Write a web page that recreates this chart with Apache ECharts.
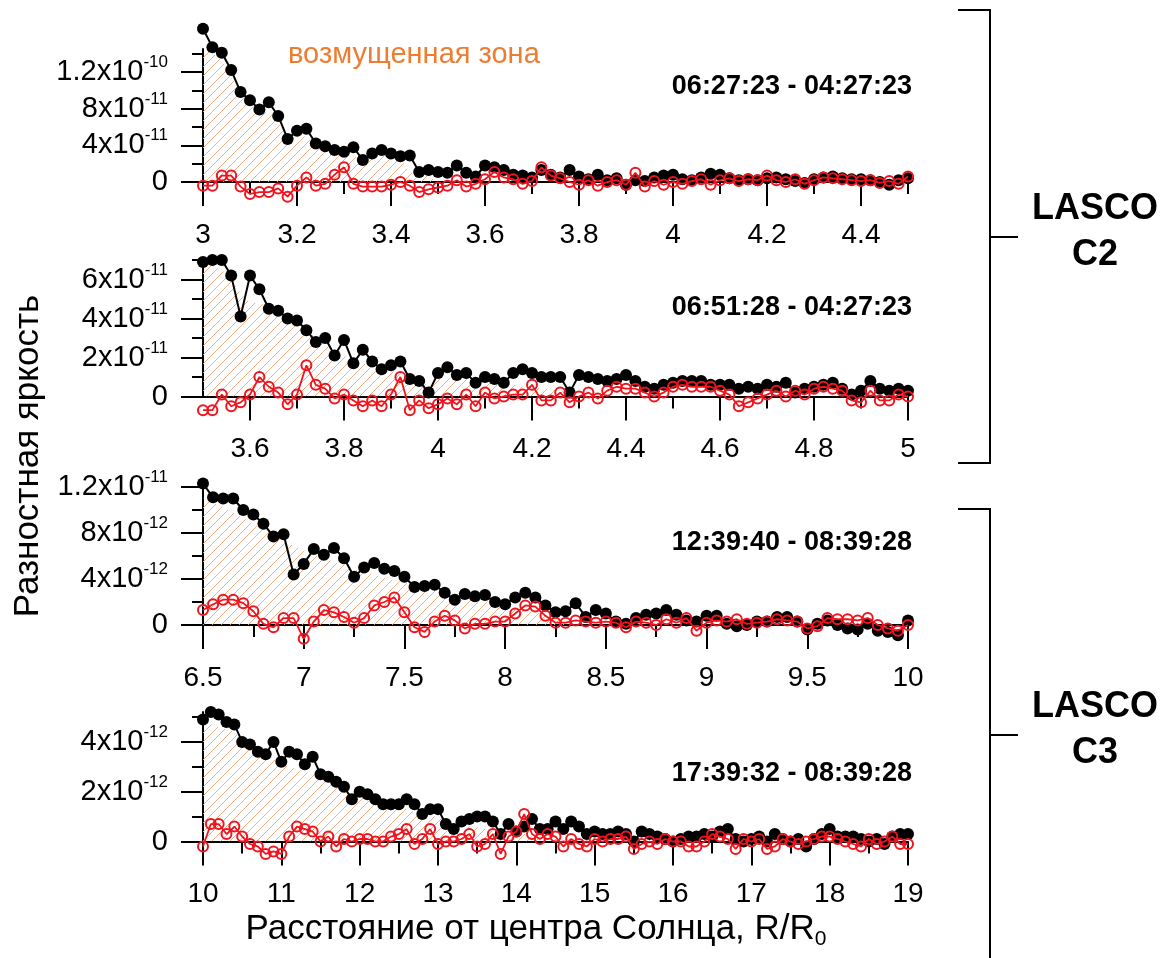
<!DOCTYPE html>
<html>
<head>
<meta charset="utf-8">
<script src="https://cdn.jsdelivr.net/npm/echarts@6/dist/echarts.min.js"></script>
<style>
    html, body { margin: 0; background: #fff; }
    #chart { width: 1161px; height: 958px; }
</style>
</head>
<body>
<div id="chart"></div>
<script>
// LASCO C2, 06:27:23 - 04:27:23 (units 1e-11), x from 3.0 step 0.02
const c2aBlack = [16.7,14.7,14.1,12.2,9.8,8.9,7.9,8.7,7.2,4.7,
    5.6,5.8,4.2,3.9,3.5,3.3,3.8,2.4,3.1,3.5,
    3.1,2.8,2.9,1.1,1.3,1.1,1.0,1.8,1.0,0.6,
    1.8,1.6,1.3,0.8,0.7,0.5,1.3,0.8,0.5,1.3,
    0.6,0.3,0.8,0.2,0.4,-0.3,0.2,0.1,0.5,0.7,
    0.8,0.3,0.2,0.5,0.9,0.8,0.4,0.2,0.3,0.2,
    0.4,0.5,0.3,0.1,-0.1,0.3,0.5,0.6,0.4,0.3,
    0.3,0.2,0.0,-0.3,0.2,0.4]
const c2aRed = [-0.4,-0.4,0.7,0.7,-0.5,-1.3,-1.1,-1.1,-0.7,-1.6,
    -0.4,0.5,-0.4,-0.2,0.8,1.6,-0.2,-0.5,-0.5,-0.5,
    -0.3,0.0,-0.4,-1.1,-0.8,-0.6,-0.4,0.2,-0.5,-0.2,
    0.3,1.1,0.5,0.3,-0.2,0.1,1.6,0.7,0.4,0.0,
    -0.3,0.2,-0.4,0.0,0.2,-0.3,1.0,-0.5,0.1,-0.3,
    0.0,-0.2,0.1,0.3,-0.3,0.2,0.4,0.1,0.3,0.2,
    0.7,0.2,0.0,0.3,-0.2,0.2,0.5,0.4,0.3,0.2,
    0.1,0.2,-0.1,0.1,-0.2,0.6]
const c2aZone = [14.5,14.0,13.3,11.8,9.6,8.6,7.6,7.6,6.6,4.6,
    4.9,5.0,4.0,3.7,3.3,3.1,2.8,2.4,2.8,3.0,
    2.8,2.6,1.0,0.9,0.6,0.0]
const c2aXLabels = ['3','3.2','3.4','3.6','3.8','4','4.2','4.4']
const c2aXMinor = [3.1,3.3,3.5,3.7,3.9,4.1,4.3,4.5]
const c2aYTicks = [0,4,8,12]
const c2aYLabels = ['0','4x10^-11','8x10^-11','1.2x10^-10']
const c2aYMinor = [2,6,10,14]

// LASCO C2, 06:51:28 - 04:27:23 (units 1e-11), x from 3.5 step 0.02
const c2bBlack = [6.9,7.0,7.0,6.2,4.1,6.2,5.5,4.5,4.4,4.0,
    3.9,3.4,2.8,3.0,2.1,2.9,1.7,2.4,1.8,1.4,
    1.6,1.8,0.9,0.8,0.2,1.2,1.5,1.1,1.2,0.7,
    1.0,0.9,0.7,1.2,1.4,1.2,1.0,1.0,1.0,0.2,
    1.1,1.0,0.9,0.8,0.9,1.1,0.8,0.5,0.4,0.6,
    0.7,0.8,0.8,0.8,0.6,0.6,0.6,0.4,0.5,0.4,
    0.6,0.5,0.7,0.2,0.4,0.5,0.6,0.7,0.4,0.1,
    0.3,0.8,0.4,0.3,0.4,0.3]
const c2bRed = [-0.7,-0.7,0.1,-0.5,-0.3,0.1,1.0,0.5,0.2,-0.4,
    0.1,1.6,0.6,0.4,-0.1,0.1,-0.2,-0.5,-0.2,-0.5,
    0.1,1.0,-0.7,-0.2,-0.6,-0.4,-0.1,-0.4,0.1,-0.5,
    0.2,-0.1,0.0,0.1,0.1,0.6,-0.2,-0.2,0.2,-0.3,
    0.0,0.2,-0.1,0.3,0.5,0.4,0.4,0.2,0.0,0.2,
    0.5,0.6,0.5,0.5,0.5,0.3,0.1,-0.5,-0.3,-0.1,
    0.1,0.3,0.0,0.3,0.1,0.4,0.5,0.4,0.3,-0.2,
    -0.3,0.3,-0.2,-0.2,0.1,0.0]
const c2bZone = [6.8,6.8,6.5,6.0,5.3,4.8,4.8,4.6,4.4,4.1,
    3.8,3.4,3.0,2.7,2.3,2.1,1.8,1.7,1.5,1.4,
    1.3,1.2,1.0,0.8,0.6,0.9,1.0,0.9,0.9,0.8,
    0.7,0.7,0.6,0.6,0.5,0.5,0.4,0.4,0.3,0.2,0.0]
const c2bXLabels = ['3.6','3.8','4','4.2','4.4','4.6','4.8','5']
const c2bXMinor = [3.7,3.9,4.1,4.3,4.5,4.7,4.9]
const c2bYTicks = [0,2,4,6]
const c2bYLabels = ['0','2x10^-11','4x10^-11','6x10^-11']
const c2bYMinor = [1,3,5,7]

// LASCO C3, 12:39:40 - 08:39:28 (units 1e-12), x from 6.5 step 0.05
const c3aBlack = [12.3,11.1,11.0,11.0,10.0,9.6,8.8,7.7,7.9,4.4,
    5.3,6.6,6.1,6.7,5.8,4.2,5.0,5.4,4.9,4.7,
    4.2,3.3,3.4,3.5,2.8,2.2,2.7,2.5,2.6,2.0,
    1.8,2.4,2.8,2.4,1.7,1.1,1.2,1.9,0.7,1.3,
    1.0,0.3,0.1,0.6,0.9,1.0,1.3,0.9,0.4,0.3,
    0.8,0.8,0.1,-0.1,0.0,0.3,0.3,0.7,0.7,0.3,
    -0.4,0.1,0.4,0.0,-0.3,-0.4,0.1,-0.5,-0.6,-0.9,
    0.4]
const c3aRed = [1.3,1.8,2.2,2.2,1.9,1.2,0.1,-0.2,0.6,0.6,
    -1.2,0.3,1.3,1.1,0.7,0.2,0.6,1.7,2.0,2.4,
    1.1,-0.2,-0.6,0.3,0.8,0.4,-0.3,0.1,0.1,0.3,
    0.3,1.0,1.7,1.6,0.8,0.2,0.2,0.4,0.3,0.2,
    0.3,0.2,-0.2,0.3,0.2,0.0,0.5,0.2,0.6,-0.5,
    0.2,0.4,0.3,0.5,0.1,0.2,0.3,0.5,0.4,0.3,
    -0.3,-0.1,0.6,0.5,0.5,0.4,0.6,0.0,-0.3,-0.5,
    0.0]
const c3aZone = [11.0,10.6,10.2,9.8,9.3,8.8,8.3,7.8,7.3,6.9,
    6.5,6.1,5.8,5.5,5.2,4.9,4.6,4.4,4.1,3.9,
    3.7,3.4,3.2,3.0,2.8,2.6,2.4,2.3,2.1,1.9,
    1.7,1.5,1.3,1.1,0.9,0.6,0.3,0.0]
const c3aXLabels = ['6.5','7','7.5','8','8.5','9','9.5','10']
const c3aXMinor = [6.75,7.25,7.75,8.25,8.75,9.25,9.75]
const c3aYTicks = [0,4,8,12]
const c3aYLabels = ['0','4x10^-12','8x10^-12','1.2x10^-11']
const c3aYMinor = [2,6,10]

// LASCO C3, 17:39:32 - 08:39:28 (units 1e-12), x from 10 step 0.1
const c3bBlack = [4.9,5.2,5.1,4.8,4.7,4.0,3.9,3.6,3.5,4.0,
    3.2,3.6,3.5,3.1,3.4,2.7,2.6,2.4,2.2,1.7,
    2.0,1.9,1.7,1.5,1.5,1.5,1.7,1.5,1.1,1.3,
    1.3,0.7,0.5,0.8,0.9,1.0,1.0,0.8,0.3,0.7,
    0.4,0.6,0.9,0.5,0.5,0.8,0.5,0.8,0.6,0.3,
    0.4,0.3,0.3,0.4,0.3,0.0,0.4,0.3,0.2,0.1,
    0.0,0.1,0.2,0.2,0.3,0.2,0.4,0.5,0.1,0.0,
    0.1,0.2,0.0,0.3,0.1,0.0,0.1,-0.2,0.1,0.3,
    0.5,0.2,0.2,0.2,0.1,0.0,0.1,-0.1,0.2,0.3,
    0.3]
const c3bRed = [-0.2,0.7,0.7,0.3,0.6,0.2,-0.1,-0.2,-0.5,-0.4,
    -0.5,0.2,0.6,0.5,0.4,0.0,0.2,-0.2,0.1,0.0,
    0.1,0.1,0.0,0.0,0.2,0.3,0.5,-0.1,0.1,0.5,
    -0.1,0.0,0.0,0.1,0.3,-0.2,-0.1,0.3,-0.5,0.2,
    0.4,1.1,0.3,0.1,0.3,0.2,-0.2,0.1,-0.1,-0.2,
    0.1,0.0,0.1,0.1,0.2,-0.3,-0.1,0.0,-0.1,0.1,
    0.0,0.0,-0.2,-0.2,0.0,0.3,0.2,0.1,-0.3,0.1,
    0.0,0.1,-0.3,-0.2,0.1,0.0,-0.1,0.0,0.1,0.2,
    0.2,0.1,0.0,-0.1,-0.2,0.1,-0.1,0.0,0.2,-0.1,
    -0.1]
const c3bZone = [4.7,4.7,4.6,4.5,4.4,4.0,3.8,3.6,3.4,3.3,
    3.1,3.0,2.9,2.8,2.7,2.6,2.4,2.3,2.1,1.9,
    1.8,1.7,1.6,1.5,1.4,1.4,1.3,1.2,1.1,1.0,
    1.0,0.9,0.8,0.7,0.6,0.6,0.5,0.4,0.3,0.3,
    0.3,0.3,0.2,0.2,0.1,0.1,0.0]
const c3bXLabels = ['10','11','12','13','14','15','16','17','18','19']
const c3bXMinor = [10.5,11.5,12.5,13.5,14.5,15.5,16.5,17.5,18.5]
const c3bYTicks = [0,2,4]
const c3bYLabels = ['0','2x10^-12','4x10^-12']
const c3bYMinor = [1,3,5]

const FONT = '"Liberation Sans", Arial, sans-serif'
const RED = '#f0141e'

const panels = [
    { x0: 3.0, step: 0.02, xMin: 3, xMax: 4.5, yMax: 14.5, top: 49, height: 133,
      black: c2aBlack, red: c2aRed, zone: c2aZone, xLabels: c2aXLabels, xMinor: c2aXMinor,
      yTicks: c2aYTicks, yLabels: c2aYLabels, yMinor: c2aYMinor },
    { x0: 3.5, step: 0.02, xMin: 3.5, xMax: 5, yMax: 7, top: 260, height: 136.5,
      black: c2bBlack, red: c2bRed, zone: c2bZone, xLabels: c2bXLabels, xMinor: c2bXMinor,
      yTicks: c2bYTicks, yLabels: c2bYLabels, yMinor: c2bYMinor },
    { x0: 6.5, step: 0.05, xMin: 6.5, xMax: 10, yMax: 12, top: 487, height: 138,
      black: c3aBlack, red: c3aRed, zone: c3aZone, xLabels: c3aXLabels, xMinor: c3aXMinor,
      yTicks: c3aYTicks, yLabels: c3aYLabels, yMinor: c3aYMinor },
    { x0: 10, step: 0.1, xMin: 10, xMax: 19, yMax: 5.2, top: 712, height: 129.5,
      black: c3bBlack, red: c3bRed, zone: c3bZone, xLabels: c3bXLabels, xMinor: c3bXMinor,
      yTicks: c3bYTicks, yLabels: c3bYLabels, yMinor: c3bYMinor }
]

function toPairs(values, x0, step) {
    return values.map((v, i) => [+(x0 + i * step).toFixed(3), v])
}

function hatchPattern() {
    const s = 9
    const c = document.createElement('canvas')
    c.width = s
    c.height = s
    const ctx = c.getContext('2d')
    ctx.strokeStyle = '#eba77a'
    ctx.lineWidth = 0.9
    ctx.beginPath()
    for (let k = -1; k <= 1; k++) {
        ctx.moveTo(k * s, s)
        ctx.lineTo(k * s + s, 0)
    }
    ctx.stroke()
    return { image: c, repeat: 'repeat' }
}

function yFormatter(p) {
    return v => {
        const i = p.yTicks.indexOf(v)
        if (i < 0) return ''
        const parts = p.yLabels[i].split('^')
        return parts.length > 1 ? '{m|' + parts[0] + '}{e|' + parts[1] + '}' : '{m|' + parts[0] + '}'
    }
}

const black = { color: '#000', width: 2 }
const hatch = hatchPattern()
const grid = [], xAxis = [], yAxis = [], series = []

panels.forEach((p, g) => {
    grid.push({ left: 203, width: 705, top: p.top, height: p.height })
    xAxis.push({
        gridIndex: g, type: 'value', min: p.xMin, max: p.xMax, position: 'bottom',
        axisLine: { show: true, lineStyle: black },
        axisTick: { show: true, length: 24, lineStyle: black, customValues: p.xLabels.map(Number) },
        axisLabel: { customValues: p.xLabels.map(Number), margin: 39, color: '#000', fontSize: 28, fontFamily: FONT,
            formatter: v => p.xLabels[p.xLabels.map(Number).indexOf(v)] },
        splitLine: { show: false }
    })
    xAxis.push({
        gridIndex: g, type: 'value', min: p.xMin, max: p.xMax, position: 'bottom',
        axisLine: { show: false },
        axisTick: { show: true, length: 12, lineStyle: black, customValues: p.xMinor },
        axisLabel: { show: false },
        splitLine: { show: false }
    })
    yAxis.push({
        gridIndex: g, type: 'value', min: 0, max: p.yMax, position: 'left',
        axisLine: { show: true, lineStyle: black },
        axisTick: { show: true, length: 22, lineStyle: black, customValues: p.yTicks },
        axisLabel: { customValues: p.yTicks, margin: 35, formatter: yFormatter(p),
            rich: {
                m: { fontSize: 29, fontFamily: FONT, color: '#000', lineHeight: 36 },
                e: { fontSize: 17, fontFamily: FONT, color: '#000', lineHeight: 17, verticalAlign: 'top' }
            } },
        splitLine: { show: false }
    })
    yAxis.push({
        gridIndex: g, type: 'value', min: 0, max: p.yMax, position: 'left',
        axisLine: { show: false },
        axisTick: { show: true, length: 11, lineStyle: black, customValues: p.yMinor },
        axisLabel: { show: false },
        splitLine: { show: false }
    })
    series.push({
        type: 'line', xAxisIndex: 2 * g, yAxisIndex: 2 * g, z: 1, silent: true,
        data: toPairs(p.zone, p.x0, p.step),
        symbol: 'none', lineStyle: { width: 0 },
        areaStyle: { color: hatch, opacity: 1 }
    })
    series.push({
        type: 'line', xAxisIndex: 2 * g, yAxisIndex: 2 * g, z: 2, clip: false,
        data: toPairs(p.black, p.x0, p.step),
        symbol: 'circle', symbolSize: 12,
        itemStyle: { color: '#000' },
        lineStyle: { color: '#000', width: 2 }
    })
    series.push({
        type: 'line', xAxisIndex: 2 * g, yAxisIndex: 2 * g, z: 3, clip: false,
        data: toPairs(p.red, p.x0, p.step),
        symbol: 'circle', symbolSize: 10,
        itemStyle: { color: 'rgba(255,255,255,0)', borderColor: RED, borderWidth: 2 },
        lineStyle: { color: RED, width: 1.8 }
    })
})

const timeLabels = ['06:27:23 - 04:27:23', '06:51:28 - 04:27:23', '12:39:40 - 08:39:28', '17:39:32 - 08:39:28']
const timeY = [87, 308, 543, 774]

const graphic = [
    { type: 'text', x: 28, y: 456, rotation: Math.PI / 2,
      style: { text: 'Разностная яркость', fontSize: 35, fontFamily: FONT, fill: '#000', align: 'center', verticalAlign: 'middle' } },
    { type: 'text', x: 536, y: 929,
      style: { text: '{a|Расстояние от центра Солнца, R/R}{s|0}', align: 'center', verticalAlign: 'middle',
        rich: {
            a: { fontSize: 35, fontFamily: FONT, fill: '#000', lineHeight: 42 },
            s: { fontSize: 21, fontFamily: FONT, fill: '#000', lineHeight: 21, verticalAlign: 'bottom' }
        } } },
    { type: 'text', x: 288, y: 55,
      style: { text: 'возмущенная зона', fontSize: 29, fontFamily: FONT, fill: '#ed7d31', align: 'left', verticalAlign: 'middle' } },
    { type: 'polyline', shape: { points: [[958, 10], [990, 10], [990, 463], [958, 463]] }, style: { stroke: '#000', lineWidth: 2, fill: null } },
    { type: 'line', shape: { x1: 990, y1: 237, x2: 1018, y2: 237 }, style: { stroke: '#000', lineWidth: 2 } },
    { type: 'polyline', shape: { points: [[958, 509], [990, 509], [990, 960]] }, style: { stroke: '#000', lineWidth: 2, fill: null } },
    { type: 'line', shape: { x1: 990, y1: 735, x2: 1018, y2: 735 }, style: { stroke: '#000', lineWidth: 2 } }
]
timeLabels.forEach((t, i) => {
    graphic.push({ type: 'text', x: 912, y: timeY[i],
        style: { text: t, fontSize: 27, fontWeight: 'bold', fontFamily: FONT, fill: '#000', align: 'right', verticalAlign: 'middle' } })
})
const lasco = [['LASCO', 209], ['C2', 255], ['LASCO', 707], ['C3', 753]]
lasco.forEach(([t, y]) => {
    graphic.push({ type: 'text', x: 1095, y: y,
        style: { text: t, fontSize: 36, fontWeight: 'bold', fontFamily: FONT, fill: '#000', align: 'center', verticalAlign: 'middle' } })
})

const chart = echarts.init(document.getElementById('chart'))
chart.setOption({
    animation: false,
    backgroundColor: '#fff',
    grid: grid,
    xAxis: xAxis,
    yAxis: yAxis,
    series: series,
    graphic: graphic
})
</script>
</body>
</html>
